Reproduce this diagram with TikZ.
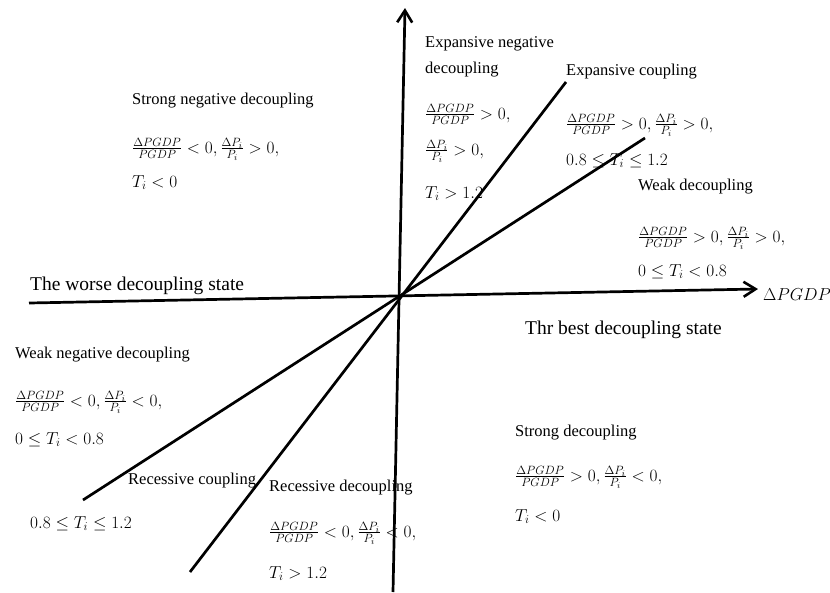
\documentclass[tikz,border=0pt]{standalone}
\usepackage{fontspec}
\setmainfont{Liberation Serif}
\usetikzlibrary{arrows.meta}
\DeclareMathSizes{16.5}{16.5}{12}{9}
\newcommand{\gdpfrac}{\frac{\Delta PGDP}{PGDP}}
\newcommand{\pifrac}{\frac{\Delta P_i}{P_i}}
\begin{document}
\begin{tikzpicture}[x=1pt,y=-1pt,
  lbl/.style={anchor=base west,inner sep=0pt,font=\fontsize{16.5}{19}\selectfont},
  big/.style={anchor=base west,inner sep=0pt,font=\fontsize{19.5}{23}\selectfont},
  axlab/.style={anchor=base west,inner sep=0pt,font=\fontsize{16.5}{19}\selectfont},
  axisline/.style={line width=2.7pt,-{Straight Barb[length=12pt,width=15pt,line width=2.6pt]}},
  ray/.style={line width=2.7pt}]
\useasboundingbox (0,0) rectangle (830,592);
\fill[white] (0,0) rectangle (830,592);
% axes and rays
\coordinate (vb) at (393,592); \coordinate (vt) at (405,8);
\coordinate (hl) at (29,303);  \coordinate (hr) at (758,289);
\coordinate (a1) at (190,572); \coordinate (a2) at (566,82);
\coordinate (b1) at (83,500);  \coordinate (b2) at (645,138);
\draw[axisline] (vb) -- (vt);
\draw[axisline] (hl) -- (hr);
\draw[ray] (a1) -- (a2);
\draw[ray] (b1) -- (b2);
% Expansive negative decoupling
\node[lbl] (en1) at (425,47) {Expansive negative};
\node[lbl] (en2) at (425,73) {decoupling};
\node[lbl] (en3) at (425,119) {$\gdpfrac>0,$};
\node[lbl] (en4) at (425,155) {$\pifrac>0,$};
\node[lbl] (en5) at (425,198) {$T_i>1.2$};
% Expansive coupling
\node[lbl] (ec1) at (566,75) {Expansive coupling};
\node[lbl] (ec2) at (566,129) {$\gdpfrac>0,\pifrac>0,$};
\node[lbl] (ec3) at (566,165) {$0.8\leq T_i\leq 1.2$};
% Strong negative decoupling
\node[lbl] (sn1) at (132,104) {Strong negative decoupling};
\node[lbl] (sn2) at (132,153) {$\gdpfrac<0,\pifrac>0,$};
\node[lbl] (sn3) at (132,187) {$T_i<0$};
% Weak decoupling
\node[lbl] (wd1) at (638,190) {Weak decoupling};
\node[lbl] (wd2) at (638,242) {$\gdpfrac>0,\pifrac>0,$};
\node[lbl] (wd3) at (638,276) {$0\leq T_i<0.8$};
% states and axis label
\node[big] (worse) at (30,290) {The worse decoupling state};
\node[big] (best) at (525,334) {Thr best decoupling state};
\node[axlab] (xlab) at (763,300) {$\Delta PGDP$};
% Weak negative decoupling
\node[lbl] (wn1) at (15,358) {Weak negative decoupling};
\node[lbl] (wn2) at (15,406) {$\gdpfrac<0,\pifrac<0,$};
\node[lbl] (wn3) at (15,444) {$0\leq T_i<0.8$};
% Recessive coupling
\node[lbl] (rc1) at (128,484) {Recessive coupling};
\node[lbl] (rc2) at (30,528) {$0.8\leq T_i\leq 1.2$};
% Recessive decoupling
\node[lbl] (rd1) at (269,491) {Recessive decoupling};
\node[lbl] (rd2) at (269,537) {$\gdpfrac<0,\pifrac<0,$};
\node[lbl] (rd3) at (269,578) {$T_i>1.2$};
% Strong decoupling
\node[lbl] (sd1) at (515,436) {Strong decoupling};
\node[lbl] (sd2) at (515,481) {$\gdpfrac>0,\pifrac<0,$};
\node[lbl] (sd3) at (515,521) {$T_i<0$};
\end{tikzpicture}
\end{document}
